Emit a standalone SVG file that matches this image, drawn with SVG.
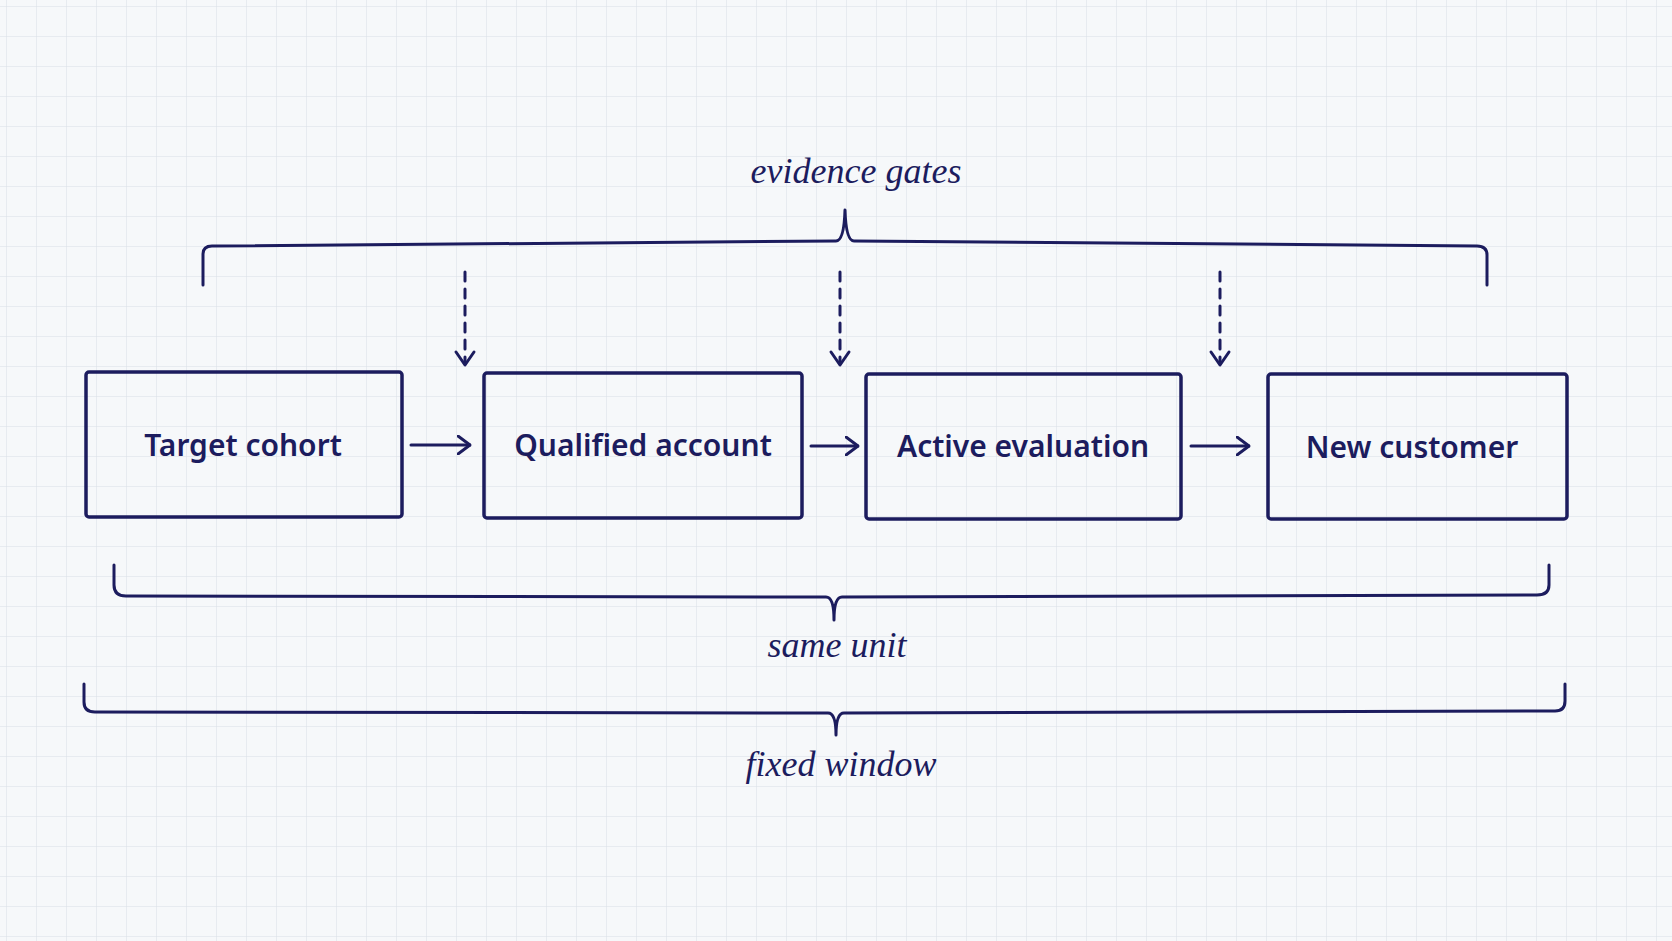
<svg xmlns="http://www.w3.org/2000/svg" width="1672" height="941" viewBox="0 0 1672 941">
<defs>
<pattern id="grid" width="30" height="30" patternUnits="userSpaceOnUse" x="7" y="7">
<path d="M30 0V30M0 30H30" fill="none" stroke="#d9dfe6" stroke-width="1"/>
</pattern>
<marker id="ah" viewBox="0 0 14 20" refX="13" refY="10" markerWidth="14" markerHeight="20" markerUnits="userSpaceOnUse" orient="auto">
<path d="M1 1L13 10L1 19" fill="none" stroke="#1c1c5e" stroke-width="3" stroke-linecap="round" stroke-linejoin="round"/>
</marker>
<style>
.box{fill:none;stroke:#1c1c5e;stroke-width:3.5;}
.lbl{font-family:"Noto Sans","Liberation Sans",sans-serif;font-weight:600;font-size:30px;fill:#1c1c5e;text-anchor:middle;}
.hand{font-family:"Liberation Serif",serif;font-style:italic;font-size:36px;fill:#1c1c5e;text-anchor:middle;}
.ln{fill:none;stroke:#1c1c5e;stroke-width:3;stroke-linecap:round;stroke-linejoin:round;}
.dash{stroke-dasharray:9 8;}
</style>
</defs>
<rect width="1672" height="941" fill="#f6f8fa"/>
<rect width="1672" height="941" fill="url(#grid)"/>
<g id="n1"><rect class="box" x="86" y="372" width="316" height="145" rx="3"/><text class="lbl" x="243" y="456">Target cohort</text></g>
<g id="n2"><rect class="box" x="484" y="373" width="318" height="145" rx="3"/><text class="lbl" x="643" y="456">Qualified account</text></g>
<g id="n3"><rect class="box" x="866" y="374" width="315" height="145" rx="3"/><text class="lbl" x="1023" y="457">Active evaluation</text></g>
<g id="n4"><rect class="box" x="1268" y="374" width="299" height="145" rx="3"/><text class="lbl" x="1412" y="458">New customer</text></g>
<g id="connectors">
<path class="ln" d="M411 445H470" marker-end="url(#ah)"/>
<path class="ln" d="M811 446H858" marker-end="url(#ah)"/>
<path class="ln" d="M1191 446H1249" marker-end="url(#ah)"/>
<path class="ln dash" d="M465 272V364"/><path class="ln" d="M456 352L465 365L474 352"/>
<path class="ln dash" d="M840 272V364"/><path class="ln" d="M831 352L840 365L849 352"/>
<path class="ln dash" d="M1220 272V364"/><path class="ln" d="M1211 352L1220 365L1229 352"/>
</g>
<g id="braces">
<path class="ln" d="M203 285V254Q203 246 212 246L836 241Q844 241 845 210Q846 241 854 241L1477 246Q1487 246 1487 255V285"/>
<path class="ln" d="M114 565V585Q114 596 126 596L826 597Q834 597 834 620Q834 597 842 597L1537 595Q1549 595 1549 585V565"/>
<path class="ln" d="M84 684V702Q84 712 95 712L828 713Q836 713 836 735Q836 713 844 713L1555 711Q1565 711 1565 701V684"/>
<text class="hand" x="856" y="183">evidence gates</text>
<text class="hand" x="837" y="657">same unit</text>
<text class="hand" x="841" y="776">fixed window</text>
</g>
</svg>
